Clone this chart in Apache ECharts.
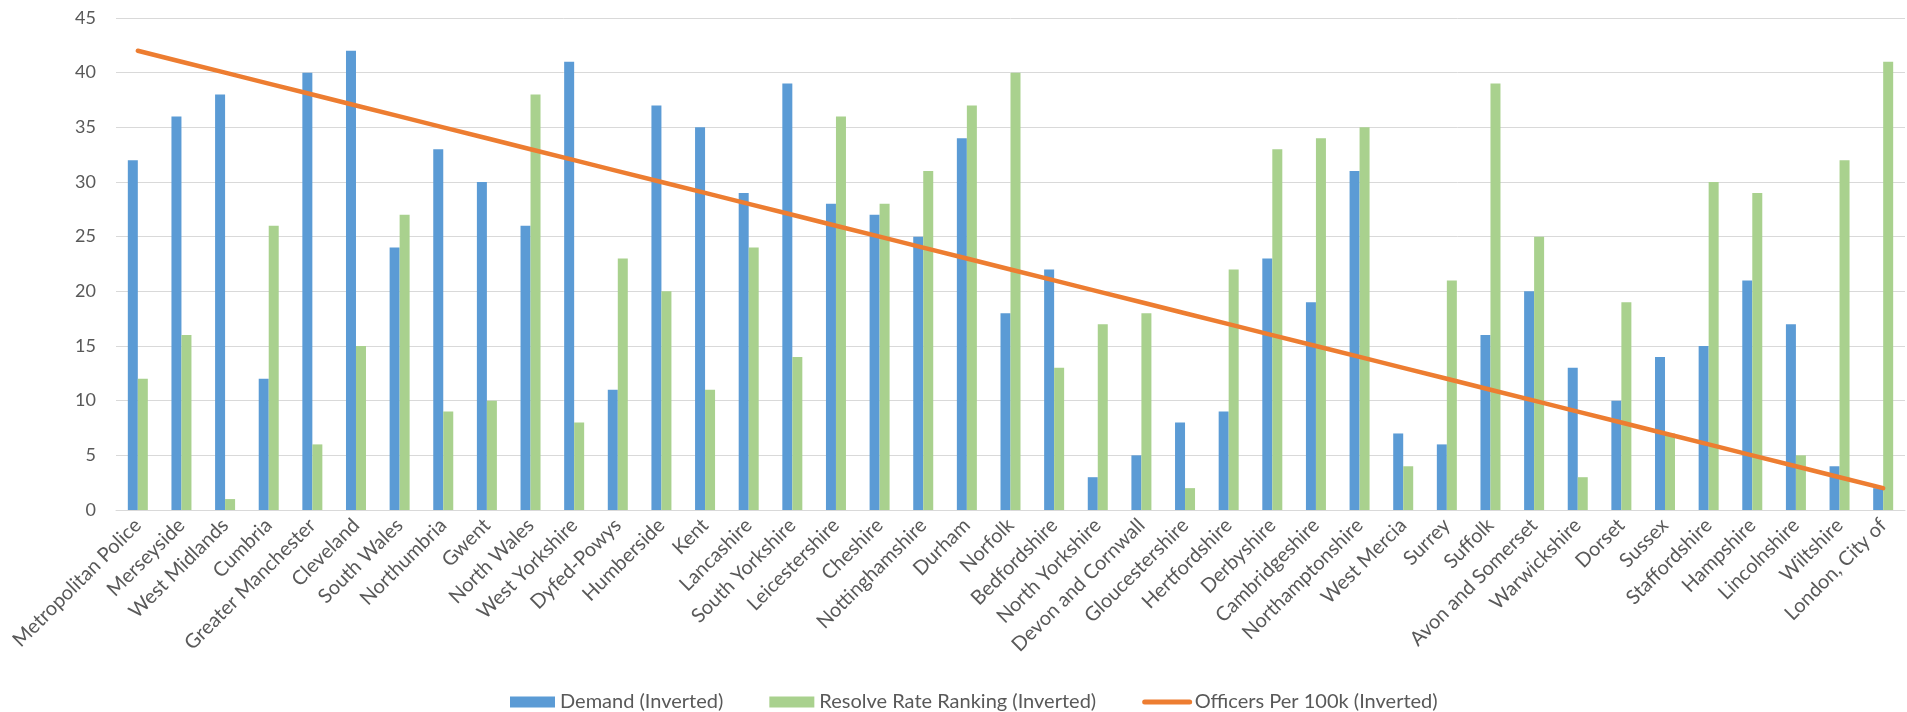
<!DOCTYPE html>
<html>
<head>
<meta charset="utf-8">
<script src="https://cdn.jsdelivr.net/npm/echarts@6/dist/echarts.min.js"></script>
<style>html,body{margin:0;padding:0;background:#fff;}#c{width:1907px;height:712px;}</style>
</head>
<body>
<div id="c"></div>
<script>
const categories = ["Metropolitan Police","Merseyside","West Midlands","Cumbria","Greater Manchester","Cleveland","South Wales","Northumbria","Gwent","North Wales","West Yorkshire","Dyfed-Powys","Humberside","Kent","Lancashire","South Yorkshire","Leicestershire","Cheshire","Nottinghamshire","Durham","Norfolk","Bedfordshire","North Yorkshire","Devon and Cornwall","Gloucestershire","Hertfordshire","Derbyshire","Cambridgeshire","Northamptonshire","West Mercia","Surrey","Suffolk","Avon and Somerset","Warwickshire","Dorset","Sussex","Staffordshire","Hampshire","Lincolnshire","Wiltshire","London, City of"];
const demand = [32,36,38,12,40,42,24,33,30,26,41,11,37,35,29,39,28,27,25,34,18,22,3,5,8,9,23,19,31,7,6,16,20,13,10,14,15,21,17,4,2];
const resolveRate = [12,16,1,26,6,15,27,9,10,38,8,23,20,11,24,14,36,28,31,37,40,13,17,18,2,22,33,34,35,4,21,39,25,3,19,7,30,29,5,32,41];
const officers = [42,41,40,39,38,37,36,35,34,33,32,31,30,29,28,27,26,25,24,23,22,21,20,19,18,17,16,15,14,13,12,11,10,9,8,7,6,5,4,3,2];
const yTicks = [0,5,10,15,20,25,30,35,40,45];

const chart = echarts.init(document.getElementById('c'));
const font = 'Lato';
chart.setOption({
  animation: false,
  grid: {left: 116, right: 2, top: 18, bottom: 202, containLabel: false, outerBoundsMode: 'none'},
  legend: {
    left: 505, top: 687,
    itemGap: 46, itemWidth: 45, itemHeight: 11,
    textStyle: {fontFamily: font, fontSize: 20, color: '#595959'},
    data: [
      {name: 'Demand (Inverted)', icon: 'rect'},
      {name: 'Resolve Rate Ranking (Inverted)', icon: 'rect'},
      {name: 'Officers Per 100k (Inverted)', itemStyle: {opacity: 0}, lineStyle: {width: 5}}
    ]
  },
  xAxis: {
    type: 'category', data: categories,
    axisLine: {lineStyle: {color: '#d9d9d9', width: 1}},
    axisTick: {show: false},
    axisLabel: {rotate: 45, interval: 0, fontFamily: font, fontSize: 20, color: '#595959', margin: 12}
  },
  yAxis: {
    type: 'value', min: yTicks[0], max: yTicks[yTicks.length-1], interval: 5,
    axisLine: {show: false}, axisTick: {show: false},
    splitLine: {lineStyle: {color: '#d9d9d9', width: 1}},
    axisLabel: {fontFamily: font, fontSize: 18, color: '#595959', margin: 20}
  },
  series: [
    {name: 'Demand (Inverted)', type: 'bar', data: demand, barWidth: 10, barGap: '0%', itemStyle: {color: '#5B9BD5'}},
    {name: 'Resolve Rate Ranking (Inverted)', type: 'bar', data: resolveRate, barWidth: 10, barGap: '0%', itemStyle: {color: '#A9D18E'}},
    {name: 'Officers Per 100k (Inverted)', type: 'line', data: officers, symbol: 'none', z: 5,
     lineStyle: {color: '#ED7D31', width: 4.5, cap: 'round'}, itemStyle: {color: '#ED7D31'}}
  ]
});
</script>
</body>
</html>
